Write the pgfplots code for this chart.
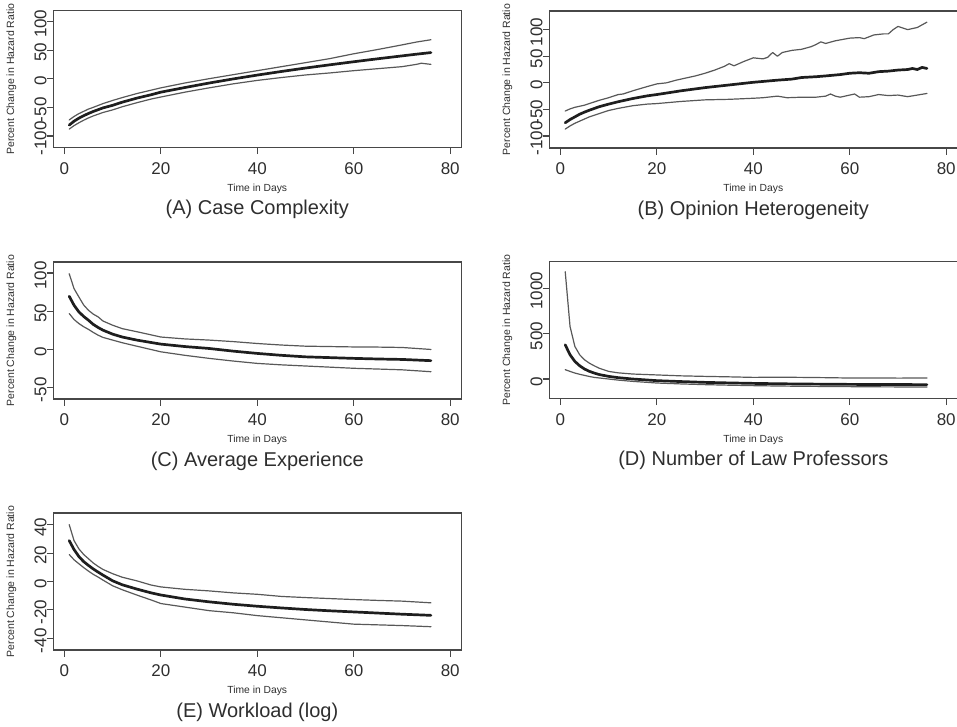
\documentclass[border=0pt]{standalone}
\usepackage{pgfplots}
\pgfplotsset{compat=1.18}
\usepackage{fontspec}
\setmainfont{Liberation Sans}
\definecolor{boxc}{HTML}{474747}
\definecolor{txt}{HTML}{2E2E2E}
\definecolor{ci}{HTML}{585858}
\definecolor{med}{HTML}{1E1E1E}

\pgfplotsset{
  panel/.style={
    scale only axis, width=408pt, height=137pt, anchor=south west,
    xmin=-2.3, xmax=82.3, xtick={0,20,40,60,80},
    tick pos=left, tick align=outside, major tick length=6.5pt,
    axis line style={draw=boxc, line width=1.1pt},
    every tick/.style={draw=boxc, line width=1.1pt},
    /pgf/number format/assume math mode=true,
    /pgf/number format/1000 sep={},
    ticklabel style={font=\fontsize{17}{19}\selectfont, text=txt, inner sep=0pt},
    xticklabel style={anchor=north, yshift=-8pt},
    yticklabel style={rotate=90, anchor=south, xshift=-2.4pt},
    every axis x label/.style={at={(axis description cs:0.5,-0.2993)}, anchor=center,
      font=\fontsize{10.3}{12}\selectfont, text=txt},
    every axis y label/.style={at={(axis description cs:-0.1029,0.5)}, rotate=90, anchor=center,
      font=\fontsize{10.5}{12}\selectfont, text=txt},
    every axis title/.style={at={(axis description cs:0.5,-0.4526)}, anchor=center,
      font=\fontsize{20}{24}\selectfont, text=txt},
    xlabel={Time in Days}, ylabel={Percent Change in Hazard Ratio},
    every axis plot/.append style={mark=none, line join=round, line cap=round},
    scaled ticks=false,
  },
  cil/.style={draw=ci, line width=1.2pt},
  medl/.style={draw=med, line width=2.7pt},
}

\begin{document}
\begin{tikzpicture}
\useasboundingbox (0pt,0pt) rectangle (957pt,-726pt);

% (A) Case Complexity
\begin{axis}[panel, at={(53.3pt,-147.7pt)}, ymin=-120.5, ymax=118.7,
  ytick={-100,-50,0,50,100}, title={(A) Case Complexity}]
\addplot[cil] coordinates {(1,-72)(2,-66)(3,-61)(4,-57)(5,-53)(6,-50)(8,-43.5)(10,-38)(12,-33)(15,-26)(18,-20)(20,-16)(25,-7.5)(30,0)(35,7)(40,14)(45,21)(50,28)(55,35)(60,43.5)(65,51)(70,59)(73,64)(76,68)};
\addplot[medl] coordinates {(1,-81)(2,-74.2)(3,-69)(4,-64.6)(5,-60.7)(6,-57.2)(8,-51)(10,-46.5)(12,-41)(15,-34)(18,-28)(20,-23.5)(25,-15.4)(30,-7.6)(35,-0.4)(40,6.3)(45,12.6)(50,18.6)(55,24.2)(60,29.6)(65,34.8)(70,39.8)(73,42.8)(76,45.6)};
\addplot[cil] coordinates {(1,-88)(2,-82)(3,-77)(4,-72.5)(5,-68.5)(6,-65)(8,-59)(10,-54.5)(12,-49)(15,-42)(18,-35.5)(20,-32)(25,-23.5)(30,-16)(35,-9)(40,-3)(45,2)(50,6.5)(55,10)(60,14)(65,17.5)(70,21)(73,25)(74,27)(76,25)};
\end{axis}

% (B) Opinion Heterogeneity
\begin{axis}[panel, at={(549.3pt,-148pt)}, ymin=-122.5, ymax=135,
  ytick={-100,-50,0,50,100}, title={(B) Opinion Heterogeneity}]
\addplot[cil] coordinates {(1,-53)(2,-49)(3,-46)(4,-44)(5,-42)(6,-39)(8,-33)(10,-28)(12,-22)(13,-21)(15,-15)(18,-7)(20,-2)(22,0)(24,5)(26,9)(28,13)(30,18)(32,24)(34,31)(35,36)(36,32)(37,36)(38,40)(40,47)(42,45)(43,48)(44,57)(45,50)(46,57)(48,61)(50,63)(52,68)(53,72)(54,77)(55,74)(57,79)(60,84)(62,85)(63,83)(65,90)(67,92)(68,92)(69,100)(70,106)(71,103)(72,100)(74,104)(76,114)};
\addplot[medl] coordinates {(1,-75)(2,-69)(3,-64)(4,-59)(5,-55)(6,-51.5)(8,-45)(10,-40)(12,-35.5)(15,-29.5)(18,-24.5)(20,-22)(25,-15)(30,-9)(35,-4)(40,1)(45,5)(48,7)(50,10)(53,11.5)(55,13)(58,15.5)(60,18)(62,19)(64,18)(66,21)(68,22)(70,24)(72,25)(73,27)(74,25)(75,29)(76,27)};
\addplot[cil] coordinates {(1,-87)(2,-81)(3,-76)(4,-72)(5,-68)(6,-64)(8,-58)(10,-52)(12,-48)(15,-43)(18,-40)(20,-39)(25,-35)(30,-32)(35,-31)(40,-29)(42,-28)(45,-25)(47,-28)(50,-27)(53,-27)(55,-25)(56,-21)(57,-25)(58,-27)(60,-23)(61,-21)(62,-27)(64,-26)(66,-22)(68,-24)(70,-23)(72,-26)(74,-23)(76,-20)};
\end{axis}

% (C) Average Experience
\begin{axis}[panel, at={(53.3pt,-399pt)}, ymin=-65.3, ymax=114.4,
  ytick={-50,0,50,100}, title={(C) Average Experience}]
\addplot[cil] coordinates {(1,99)(2,79.5)(3,68.6)(4,58)(5,51)(6,46)(7,42.4)(8,37)(10,31.5)(12,27)(15,23)(20,16)(25,13.5)(30,12)(35,10)(40,7.5)(45,5.5)(50,4)(55,3.5)(60,3)(65,2.8)(70,2.3)(76,-0.3)};
\addplot[medl] coordinates {(1,69.5)(2,57.7)(3,49)(4,43)(5,38)(6,32.5)(7,28.5)(8,25)(10,19.8)(12,16)(15,12)(20,6.7)(25,3.5)(30,1)(35,-2.5)(40,-5.5)(45,-8)(50,-10)(55,-11)(60,-12)(65,-12.8)(70,-13.4)(76,-15)};
\addplot[cil] coordinates {(1,46.8)(2,39)(3,33.7)(4,29.5)(5,26)(6,22)(7,18.4)(8,15.5)(10,12)(12,8.5)(15,4)(20,-3.4)(25,-8)(30,-12)(35,-15.5)(40,-18.6)(45,-20.5)(50,-22)(55,-23.5)(60,-25)(65,-26)(70,-27)(76,-29.5)};
\end{axis}

% (D) Number of Law Professors
\begin{axis}[panel, at={(549.3pt,-398.7pt)}, ymin=-217, ymax=1293,
  ytick={0,500,1000}, title={(D) Number of Law Professors}]
\addplot[cil] coordinates {(1,1183)(2,579)(3,359)(4,267)(5,212)(6,175)(7,146)(8,120)(10,84)(12,68)(15,55)(20,45)(25,35)(30,29)(35,24)(40,18)(45,20)(50,18)(55,15)(60,11)(65,12)(70,10)(76,11)};
\addplot[medl] coordinates {(1,377)(2,267)(3,194)(4,146)(5,110)(6,85)(7,66)(8,50)(10,29)(12,15)(15,0)(20,-18)(25,-28)(30,-37)(35,-43)(40,-48)(45,-52)(50,-55)(55,-57)(60,-59)(65,-60)(70,-61)(76,-62)};
\addplot[cil] coordinates {(1,103)(2,84)(3,66)(4,52)(5,40)(6,28)(7,18)(8,12)(10,0)(12,-12)(15,-26)(20,-44)(25,-54)(30,-62)(35,-68)(40,-73)(45,-77)(50,-80)(55,-82)(60,-84)(65,-86)(70,-87)(76,-88)};
\end{axis}

% (E) Workload (log)
\begin{axis}[panel, at={(53.3pt,-650pt)}, ymin=-48.2, ymax=48.2,
  ytick={-40,-20,0,20,40}, title={(E) Workload (log)}]
\addplot[cil] coordinates {(1,40)(2,28.8)(3,23)(4,19)(5,16)(6,13)(7,10.6)(8,8.5)(10,5.5)(12,3)(15,0.5)(18,-2.5)(20,-3.8)(25,-5.5)(30,-6.6)(35,-8)(40,-9)(45,-10.5)(50,-11.3)(55,-12)(60,-12.7)(65,-13.3)(70,-13.8)(76,-15)};
\addplot[medl] coordinates {(1,28.8)(2,22.5)(3,17.6)(4,14)(5,11.3)(6,8.8)(7,6.6)(8,4.5)(10,0.5)(12,-2.3)(15,-5.3)(18,-8)(20,-9.5)(25,-12.3)(30,-14.3)(35,-16)(40,-17.4)(45,-18.6)(50,-19.7)(55,-20.6)(60,-21.4)(65,-22.2)(70,-23)(76,-23.8)};
\addplot[cil] coordinates {(1,19)(2,15.3)(3,12.5)(4,9.8)(5,7.3)(6,5)(7,3.1)(8,1)(10,-3)(12,-5.8)(15,-9.5)(18,-13)(20,-15.5)(25,-18)(30,-20.5)(35,-22)(40,-24)(45,-25.5)(50,-27)(55,-28.5)(60,-30)(65,-30.5)(70,-31)(76,-31.8)};
\end{axis}
\end{tikzpicture}
\end{document}
